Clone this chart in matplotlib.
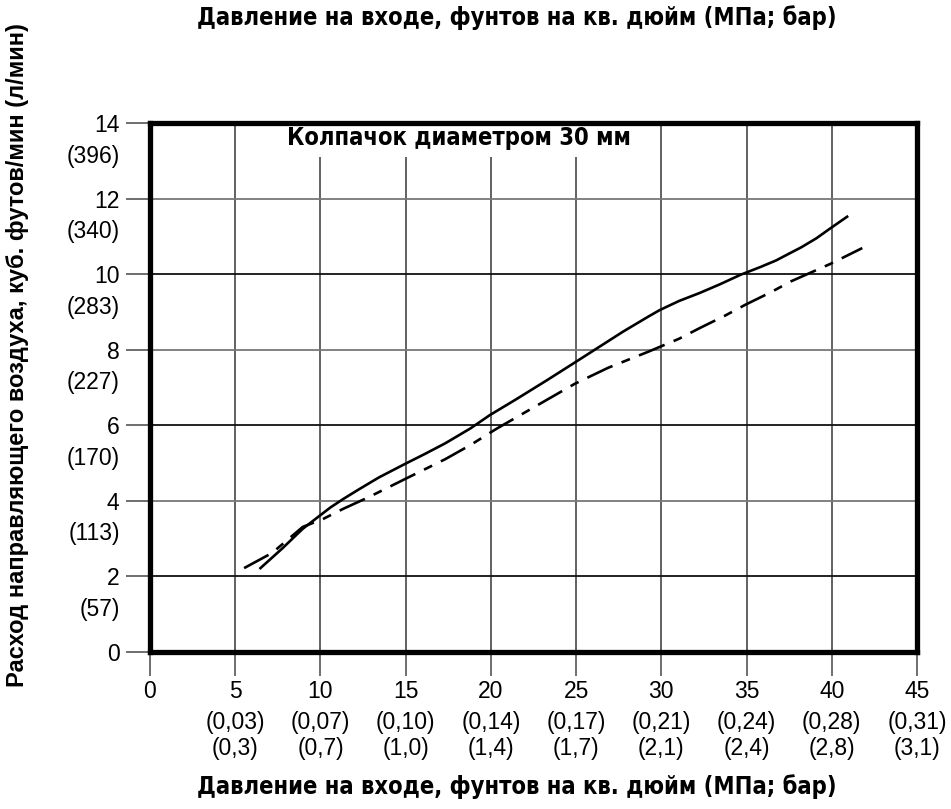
import numpy as np
import matplotlib.pyplot as plt
from matplotlib import transforms

plt.rcParams['lines.scale_dashes'] = False

# расход, куб. футов/мин, в зависимости от давления, psi
x_solid = [6.48, 7.76, 8.96, 9.85, 10.60, 11.34, 12.24, 13.43, 14.93, 16.12, 17.31, 18.81,
           19.94, 21.49, 23.28, 24.78, 26.27, 27.76, 29.25, 29.91, 31.04, 32.24, 33.43,
           34.63, 35.82, 36.72, 37.61, 38.21, 39.10, 39.91, 40.90]
y_solid = [2.22, 2.74, 3.26, 3.57, 3.83, 4.05, 4.30, 4.62, 4.97, 5.24, 5.52, 5.92,
           6.27, 6.69, 7.19, 7.62, 8.05, 8.48, 8.88, 9.05, 9.29, 9.50, 9.73,
           9.98, 10.19, 10.36, 10.57, 10.71, 10.95, 11.21, 11.52]

x_dash = [5.52, 7.16, 8.96, 10.15, 11.34, 12.84, 14.93, 17.31, 18.81, 20.30, 22.69, 24.93,
          26.87, 29.25, 31.04, 32.24, 33.73, 34.93, 36.42, 37.61, 38.81, 39.91, 41.79]
y_dash = [2.22, 2.62, 3.31, 3.52, 3.79, 4.10, 4.57, 5.10, 5.48, 5.90, 6.52, 7.10,
          7.52, 7.95, 8.29, 8.57, 8.90, 9.19, 9.52, 9.81, 10.05, 10.27, 10.69]

x_ticks = [0, 5, 10, 15, 20, 25, 30, 35, 40, 45]
x_mpa = ["", "(0,03)", "(0,07)", "(0,10)", "(0,14)", "(0,17)", "(0,21)", "(0,24)", "(0,28)", "(0,31)"]
x_bar = ["", "(0,3)", "(0,7)", "(1,0)", "(1,4)", "(1,7)", "(2,1)", "(2,4)", "(2,8)", "(3,1)"]

y_ticks = [0, 2, 4, 6, 8, 10, 12, 14]
y_lmin = ["", "(57)", "(113)", "(170)", "(227)", "(283)", "(340)", "(396)"]

xlabel = "Давление на входе, фунтов на кв. дюйм (МПа; бар)"
ylabel = "Расход направляющего воздуха, куб. футов/мин (л/мин)"
caption = "Колпачок диаметром 30 мм"

W, H = 951, 809
fig = plt.figure(figsize=(W / 100, H / 100), dpi=100)
ax = fig.add_axes([150 / W, (H - 652) / H, (917 - 150) / W, (652 - 123) / H])
ax.set_xlim(0, 45)
ax.set_ylim(0, 14)

sans = ['Liberation Sans', 'DejaVu Sans']
cond = dict(family='DejaVu Sans', fontstretch='condensed', fontweight='bold')

# сетка
for xv in x_ticks[1:-1]:
    ax.axvline(xv, color='#555555', lw=1.3, zorder=1)
for i, yv in enumerate(y_ticks[1:-1]):
    ax.axhline(yv, color='#111111' if i % 2 == 0 else '#777777', lw=1.3, zorder=1)

ax.plot(x_solid, y_solid, color='black', lw=1.9, zorder=3, solid_joinstyle='round')
ax.plot(x_dash, y_dash, color='black', lw=1.9, linestyle=(0, (20, 7, 6.5, 7)), zorder=3)

for s in ax.spines.values():
    s.set_linewidth(3.8)
    s.set_zorder(5)

ax.set_xticks(x_ticks)
ax.set_yticks(y_ticks)
ax.set_xticklabels([str(v) for v in x_ticks], family=sans, fontsize=16.5)
ax.set_yticklabels([str(v) for v in y_ticks], family=sans, fontsize=16.5)
ax.tick_params(axis='both', length=17, width=1.2, color='#555555')
ax.tick_params(axis='x', pad=3)
ax.tick_params(axis='y', pad=5)

# подписи в МПа / бар и л/мин
tx = transforms.blended_transform_factory(ax.transData, ax.transAxes)
off1 = transforms.ScaledTranslation(0, -71 / 100, fig.dpi_scale_trans)
off2 = transforms.ScaledTranslation(0, -96 / 100, fig.dpi_scale_trans)
for xv, a, b in zip(x_ticks, x_mpa, x_bar):
    ax.text(xv, 0, a, transform=tx + off1, ha='center', va='center', family=sans, fontsize=16.5)
    ax.text(xv, 0, b, transform=tx + off2, ha='center', va='center', family=sans, fontsize=16.5)

ty = transforms.blended_transform_factory(ax.transAxes, ax.transData)
off3 = transforms.ScaledTranslation(-30 / 100, -33 / 100, fig.dpi_scale_trans)
for yv, c in zip(y_ticks, y_lmin):
    ax.text(0, yv, c, transform=ty + off3, ha='right', va='center', family=sans, fontsize=16.5)

ax.text(18.1, 13.6, caption, ha='center', va='center', fontsize=17, zorder=4,
        bbox=dict(facecolor='white', edgecolor='none', pad=5), **cond)

fig.text(517 / W, 1 - 18 / H, xlabel, ha='center', va='center', fontsize=17, **cond)
fig.text(517 / W, 1 - 787 / H, xlabel, ha='center', va='center', fontsize=17, **cond)
fig.text(18 / W, 1 - 355 / H, ylabel, ha='center', va='center', rotation=90,
         family=sans, fontsize=17, fontweight='bold')

fig.savefig("out.png", dpi=100)
